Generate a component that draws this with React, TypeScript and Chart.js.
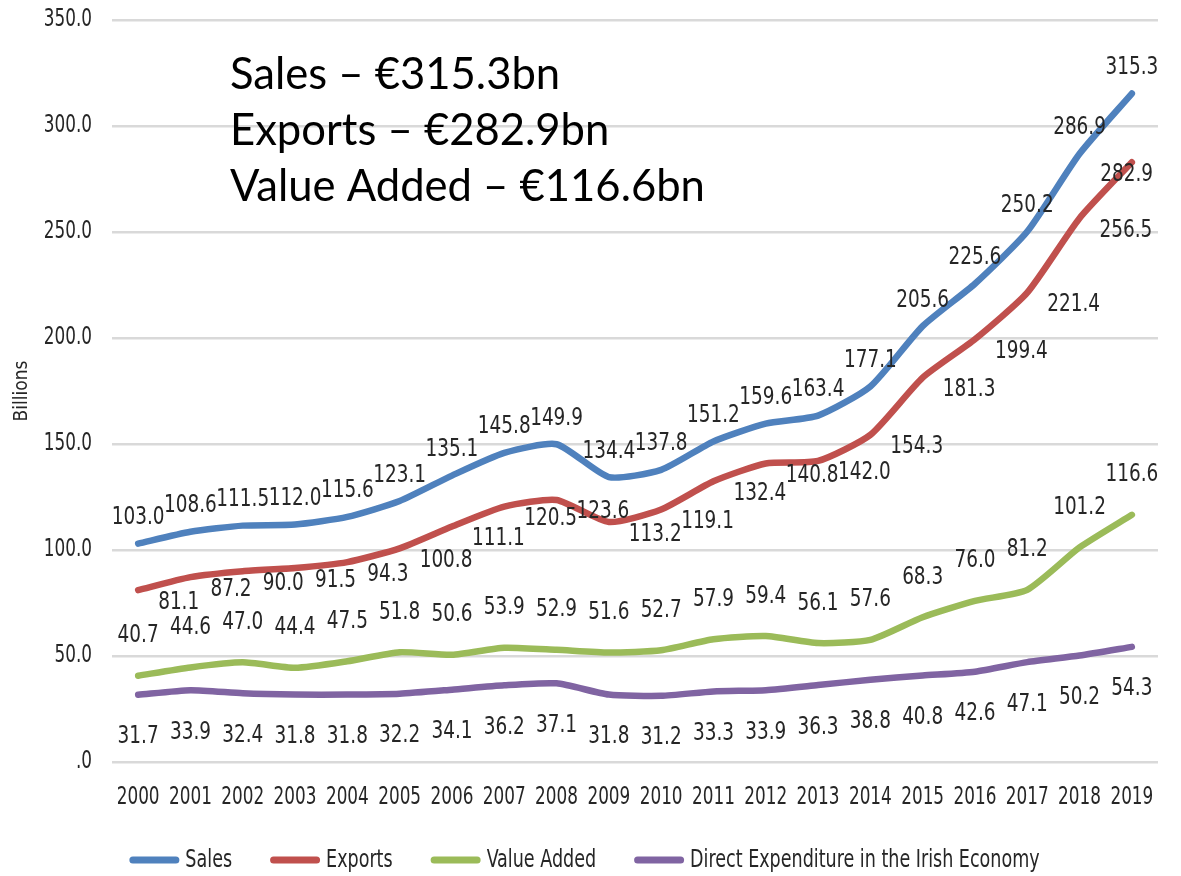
import React, { useEffect, useRef } from "react";
import { Chart, registerables } from "chart.js";

Chart.register(...registerables);

const years = ["2000","2001","2002","2003","2004","2005","2006","2007","2008","2009","2010","2011","2012","2013","2014","2015","2016","2017","2018","2019"];
const sales = [103.0,108.6,111.5,112.0,115.6,123.1,135.1,145.8,149.9,134.4,137.8,151.2,159.6,163.4,177.1,205.6,225.6,250.2,286.9,315.3];
const exportsData = [81.1,87.2,90.0,91.5,94.3,100.8,111.1,120.5,123.6,113.2,119.1,132.4,140.8,142.0,154.3,181.3,199.4,221.4,256.5,282.9];
const valueAdded = [40.7,44.6,47.0,44.4,47.5,51.8,50.6,53.9,52.9,51.6,52.7,57.9,59.4,56.1,57.6,68.3,76.0,81.2,101.2,116.6];
const directExp = [31.7,33.9,32.4,31.8,31.8,32.2,34.1,36.2,37.1,31.8,31.2,33.3,33.9,36.3,38.8,40.8,42.6,47.1,50.2,54.3];
const seriesNames = ["Sales","Exports","Value Added","Direct Expenditure in the Irish Economy"];
const seriesColors = ["#4f81bd","#c0504d","#9bbb59","#8064a2"];
const annotationLines = ["Sales \u2013 \u20ac315.3bn","Exports \u2013 \u20ac282.9bn","Value Added \u2013 \u20ac116.6bn"];

const NARROW = "'DejaVu Sans Condensed', 'DejaVu Sans', sans-serif";
const TEXT = "#262626";
const FONT_SIZE = 24;
const SQUEEZE = 0.78;
const LABEL_SIZE = 25;
const LABEL_SQUEEZE = 0.82;

const fmtTick = (v: number) => (Number(v) === 0 ? ".0" : Number(v).toFixed(1));

// label placement style per series: [dx, dy, align]
const labelStyles: Array<[number, number, string]> = [
  [0, -26, "center"],
  [20, 12, "left"],
  [0, -40, "center"],
  [0, 42, "center"],
];

function narrowWidth(ctx: CanvasRenderingContext2D, txt: string, size = FONT_SIZE, sx = SQUEEZE) {
  ctx.font = `${size}px ${NARROW}`;
  return ctx.measureText(txt).width * sx;
}

function drawNarrow(ctx: CanvasRenderingContext2D, txt: string, x: number, y: number, align: string, size = FONT_SIZE, sx = SQUEEZE) {
  ctx.save();
  const w = narrowWidth(ctx, txt, size, sx);
  const left = align === "center" ? x - w / 2 : align === "right" ? x - w : x;
  ctx.translate(left, y);
  ctx.scale(sx, 1);
  ctx.textAlign = "left";
  ctx.textBaseline = "middle";
  ctx.fillStyle = TEXT;
  ctx.fillText(txt, 0, 0);
  ctx.restore();
}

const dataLabelPlugin = {
  id: "dataLabels",
  afterDatasetsDraw(chart: any) {
    const ctx = chart.ctx;
    chart.data.datasets.forEach((ds: any, di: number) => {
      const meta = chart.getDatasetMeta(di);
      const [dx, dy, align] = labelStyles[di];
      meta.data.forEach((pt: any, i: number) => {
        const txt = Number(ds.data[i]).toFixed(1);
        const w = narrowWidth(ctx, txt, LABEL_SIZE, LABEL_SQUEEZE);
        let x = pt.x + dx;
        if (align === "left" && x + w > chart.chartArea.right) {
          x = chart.chartArea.right - 5 - w;
        }
        drawNarrow(ctx, txt, x, pt.y + dy, align, LABEL_SIZE, LABEL_SQUEEZE);
      });
    });
  },
};

const axisTextPlugin = {
  id: "axisText",
  afterDraw(chart: any) {
    const ctx = chart.ctx;
    const xs = chart.scales.x;
    const ys = chart.scales.y;
    xs.ticks.forEach((t: any, i: number) => {
      drawNarrow(ctx, String(xs.getLabelForValue(t.value)), xs.getPixelForTick(i), chart.chartArea.bottom + 36, "center");
    });
    ys.ticks.forEach((t: any) => {
      drawNarrow(ctx, fmtTick(t.value), chart.chartArea.left - 20, ys.getPixelForValue(t.value), "right");
    });
    // legend
    const boxW = 50, gapText = 6, gapItem = 38, legendY = 860, lsize = 25;
    const widths = chart.data.datasets.map((ds: any) => narrowWidth(ctx, ds.label, lsize));
    const total = widths.reduce((a: number, w: number) => a + boxW + gapText + w, 0) + gapItem * (widths.length - 1);
    let x = (chart.width - total) / 2 - 6;
    chart.data.datasets.forEach((ds: any, i: number) => {
      ctx.save();
      ctx.strokeStyle = ds.borderColor;
      ctx.lineWidth = 7;
      ctx.lineCap = "round";
      ctx.beginPath();
      ctx.moveTo(x + 3.5, legendY);
      ctx.lineTo(x + boxW - 3.5, legendY);
      ctx.stroke();
      ctx.restore();
      drawNarrow(ctx, ds.label, x + boxW + gapText, legendY, "left", lsize);
      x += boxW + gapText + widths[i] + gapItem;
    });
    // annotation text
    ctx.save();
    const fam = "Lato, 'Open Sans', sans-serif";
    ctx.font = `40px ${fam}`;
    const aw = ctx.measureText(annotationLines[2]).width;
    const size = (40 * 475) / aw;
    ctx.font = `${size}px ${fam}`;
    ctx.fillStyle = "#000";
    ctx.textAlign = "left";
    ctx.textBaseline = "middle";
    annotationLines.forEach((line, i) => {
      ctx.fillText(line, 230, 75 + i * 56);
    });
    ctx.restore();
  },
};

export default function App() {
  const ref = useRef<HTMLCanvasElement | null>(null);
  useEffect(() => {
    if (!ref.current) return;
    const allData = [sales, exportsData, valueAdded, directExp];
    const chart = new Chart(ref.current, {
      type: "line",
      data: {
        labels: years,
        datasets: allData.map((d, i) => ({
          label: seriesNames[i],
          data: d,
          borderColor: seriesColors[i],
          backgroundColor: seriesColors[i],
          borderWidth: 6.5,
          pointRadius: 0,
          tension: 0.2,
          borderCapStyle: "round" as const,
          borderJoinStyle: "round" as const,
          fill: false,
        })),
      },
      options: {
        animation: false,
        responsive: false,
        layout: { padding: { top: 20, right: 23, left: 0, bottom: 0 } },
        plugins: {
          tooltip: { enabled: false },
          legend: { display: false },
        },
        scales: {
          x: {
            offset: true,
            grid: { display: false },
            border: { display: false },
            ticks: { display: false, autoSkip: false },
            afterFit: (s: any) => { s.height = 114; },
          },
          y: {
            min: 0,
            max: 350,
            grid: { color: "#d9d9d9", lineWidth: 2.5, drawTicks: false },
            border: { display: false },
            ticks: { display: false, stepSize: 50, callback: (v: any) => fmtTick(v) },
            title: { display: true, text: "Billions", color: TEXT, font: { family: NARROW, size: 19 }, padding: { top: 11, bottom: 0 } },
            afterFit: (s: any) => { s.width = 112; },
          },
        },
      },
      plugins: [dataLabelPlugin, axisTextPlugin],
    });
    return () => chart.destroy();
  }, []);
  return (
    <div style={{ position: "absolute", left: 0, top: 0, width: 1181, height: 876, background: "#fff" }}>
      <canvas ref={ref} width={1181} height={876} style={{ width: 1181, height: 876, display: "block" }} />
    </div>
  );
}
